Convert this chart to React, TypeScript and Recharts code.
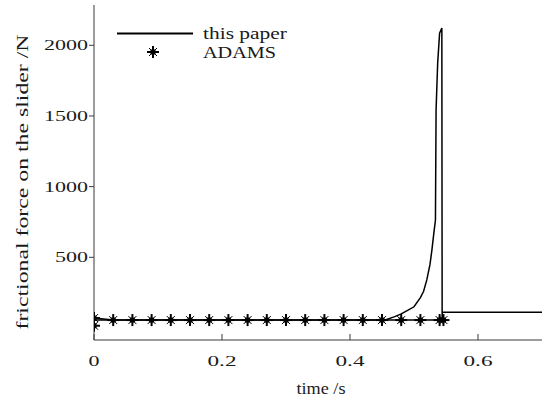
import { LineChart, Line, XAxis, YAxis, Legend } from 'recharts';

// force of the slider computed here (rises to a spike near 0.544 s, then settles)
const paperTime = [0, 0.455, 0.47, 0.48, 0.49, 0.5, 0.51, 0.515, 0.52, 0.525, 0.528, 0.531, 0.5335, 0.5345, 0.537, 0.54, 0.5435, 0.544, 0.5442, 0.7];
const paperForce = [56, 56, 80, 100, 125, 150, 215, 260, 340, 450, 552, 671, 764, 1542, 1875, 2086, 2122, 56, 111, 111];

// ADAMS samples
const adamsTime = [0, 0, 0.03, 0.06, 0.09, 0.12, 0.15, 0.18, 0.21, 0.24, 0.27, 0.3, 0.33, 0.36, 0.39, 0.42, 0.45, 0.48, 0.51, 0.54, 0.546];
const adamsForce = [16, 70, 56, 56, 56, 56, 56, 56, 56, 56, 56, 56, 56, 56, 56, 56, 56, 56, 56, 56, 56];

const seriesNames = ['this paper', 'ADAMS'];
const timeTicks = [0, 0.2, 0.4, 0.6];
const forceTicks = [500, 1000, 1500, 2000];

const paperData = paperTime.map((t, i) => ({ t, f: paperForce[i] }));
const adamsData = adamsTime.map((t, i) => ({ t, f: adamsForce[i] }));

const FONT = "'Liberation Serif', 'Times New Roman', Tinos, 'DejaVu Serif', serif";
const AXIS = '#3a3a3a';
const TEXT = '#1a1a1a';
const textStyle = { fontFamily: FONT };

// the tick numbers in the figure are drawn wide, so stretch them
function tickWidth(label: string) {
  return label.split('').reduce((w, ch) => w + (ch === '.' ? 7 : 11), 0);
}

function BottomTick({ x, y, payload }: any) {
  const label = String(payload.value);
  return (
    <g>
      <line x1={x} x2={x} y1={y} y2={y - 6} stroke={AXIS} />
      <text
        x={x}
        y={y + 26}
        textAnchor="middle"
        fontSize={15}
        style={textStyle}
        fill={TEXT}
        textLength={tickWidth(label)}
        lengthAdjust="spacingAndGlyphs"
      >
        {label}
      </text>
    </g>
  );
}

function TopTick({ x, y }: any) {
  return <line x1={x} x2={x} y1={y} y2={y + 6} stroke={AXIS} />;
}

function LeftTick({ x, y, payload }: any) {
  const label = String(payload.value);
  return (
    <g>
      <line x1={x - 5} x2={x} y1={y} y2={y} stroke={AXIS} />
      <text
        x={x - 6}
        y={y + 5}
        textAnchor="end"
        fontSize={15}
        style={textStyle}
        fill={TEXT}
        textLength={tickWidth(label)}
        lengthAdjust="spacingAndGlyphs"
      >
        {label}
      </text>
    </g>
  );
}

function RightTick({ x, y }: any) {
  return <line x1={x} x2={x - 6} y1={y} y2={y} stroke={AXIS} />;
}

function Star({ cx, cy }: any) {
  if (cx == null || cy == null) return null;
  return (
    <g>
      <line x1={cx - 6} x2={cx + 6} y1={cy} y2={cy} stroke="#000" strokeWidth={2} />
      <line x1={cx} x2={cx} y1={cy - 6} y2={cy + 6} stroke="#000" strokeWidth={2} />
      <line x1={cx - 4} x2={cx + 4} y1={cy - 4} y2={cy + 4} stroke="#000" strokeWidth={1} />
      <line x1={cx - 4} x2={cx + 4} y1={cy + 4} y2={cy - 4} stroke="#000" strokeWidth={1} />
      <rect x={cx - 2.5} y={cy - 2.5} width={5} height={5} fill="#000" />
    </g>
  );
}

function LegendBox({ payload }: any) {
  const items = [...(payload || [])].sort(
    (a: any, b: any) => seriesNames.indexOf(a.value) - seriesNames.indexOf(b.value)
  );
  return (
    <svg width={200} height={50}>
      {items.map((item: any, i: number) => (
        <g key={item.value}>
          {i === 0 ? (
            <line x1={7} x2={83} y1={15.5} y2={15.5} stroke="#000" strokeWidth={2} />
          ) : (
            <Star cx={43} cy={34} />
          )}
          <text
            x={93}
            y={i === 0 ? 21 : 40}
            fontSize={17}
            style={textStyle}
            fill={TEXT}
            textLength={i === 0 ? 84 : 73}
            lengthAdjust="spacingAndGlyphs"
          >
            {item.value}
          </text>
        </g>
      ))}
    </svg>
  );
}

export default function App() {
  return (
    <div style={{ position: 'absolute', left: 0, top: 0, background: '#fff', fontFamily: FONT }}>
      <LineChart width={544} height={401} margin={{ top: 5, right: 2, bottom: 0, left: 0 }}>
        <XAxis
          dataKey="t"
          type="number"
          domain={[0, 0.7]}
          ticks={timeTicks}
          allowDataOverflow
          height={61}
          stroke={AXIS}
          tickSize={0}
          tickMargin={0}
          tick={<BottomTick />}
          label={{
            value: 'time /s',
            content: ({ viewBox }: any) => (
              <text
                x={viewBox.x + viewBox.width / 2 + 3}
                y={viewBox.y + 54}
                textAnchor="middle"
                fontSize={16}
                style={textStyle}
                fill={TEXT}
                textLength={49}
                lengthAdjust="spacingAndGlyphs"
              >
                time /s
              </text>
            ),
          }}
        />
        <XAxis
          xAxisId="top"
          orientation="top"
          dataKey="t"
          type="number"
          domain={[0, 0.7]}
          ticks={timeTicks}
          allowDataOverflow
          height={0}
          stroke={AXIS}
          tickSize={0}
          tickMargin={0}
          tick={<TopTick />}
        />
        <YAxis
          type="number"
          domain={[-85, 2285]}
          ticks={forceTicks}
          allowDataOverflow
          width={94}
          stroke={AXIS}
          tickSize={0}
          tickMargin={0}
          tick={<LeftTick />}
          label={{
            value: 'frictional force on the slider /N',
            content: () => (
              <text
                transform="translate(28,182) rotate(-90)"
                textAnchor="middle"
                fontSize={17}
                style={textStyle}
                fill={TEXT}
                textLength={295}
                lengthAdjust="spacingAndGlyphs"
              >
                frictional force on the slider /N
              </text>
            ),
          }}
        />
        <YAxis
          yAxisId="right"
          orientation="right"
          type="number"
          domain={[-85, 2285]}
          ticks={forceTicks}
          allowDataOverflow
          width={0}
          stroke={AXIS}
          tickSize={0}
          tickMargin={0}
          tick={<RightTick />}
        />
        <Line
          data={paperData}
          dataKey="f"
          name="this paper"
          type="linear"
          stroke="#000"
          strokeWidth={1.5}
          dot={false}
          isAnimationActive={false}
        />
        <Line
          data={adamsData}
          dataKey="f"
          name="ADAMS"
          type="linear"
          stroke="#000"
          strokeWidth={1.5}
          dot={<Star />}
          isAnimationActive={false}
        />
        <Legend
          layout="vertical"
          align="center"
          verticalAlign="middle"
          content={<LegendBox />}
          wrapperStyle={{ position: 'absolute', left: 110, top: 18, width: 200, height: 50 }}
        />
      </LineChart>
    </div>
  );
}
